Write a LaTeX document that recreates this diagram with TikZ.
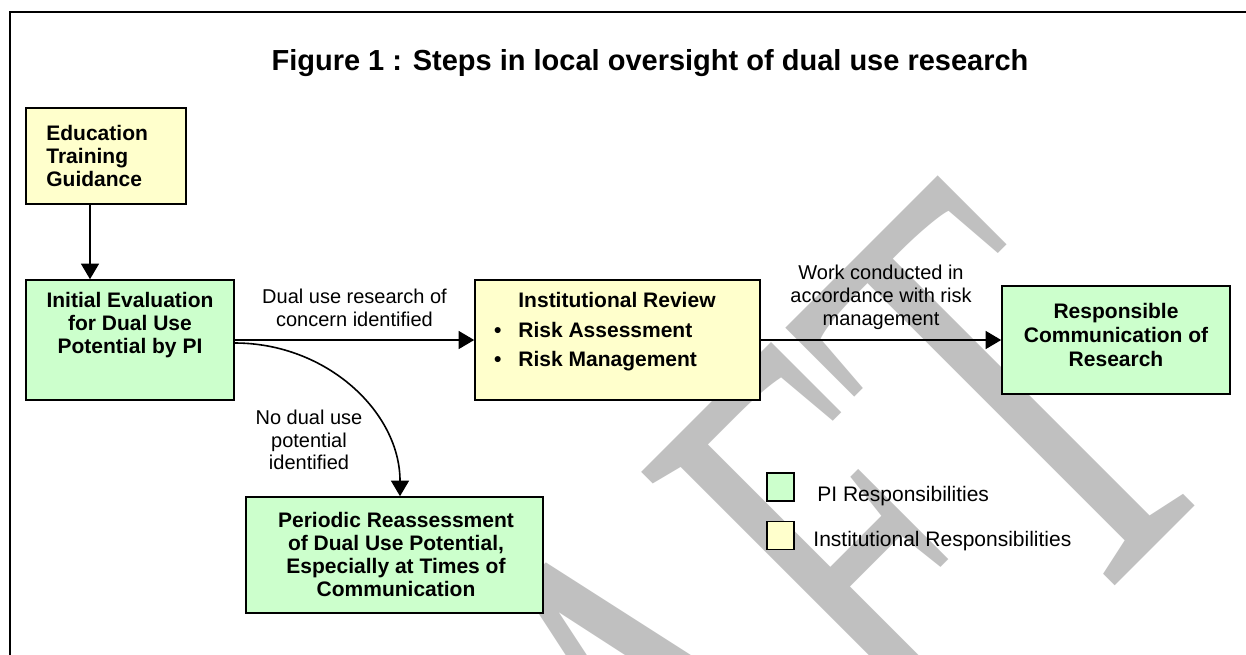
\documentclass[tikz,border=0pt]{standalone}
\usepackage{fontspec}
\setmainfont{Liberation Sans}
\newfontfamily\draftfont{Liberation Serif}
\usepackage{tikz}
\usetikzlibrary{positioning}
\usetikzlibrary{arrows.meta}
\definecolor{pigreen}{HTML}{CCFFCC}
\definecolor{instyellow}{HTML}{FFFFCC}
\definecolor{draftgray}{HTML}{C0C0C0}

\begin{document}
\begin{tikzpicture}[x=0.5pt, y=-0.5pt]
        \tikzstyle{box}=[draw=black, line width=0.8pt, inner sep=0pt]
        \tikzstyle{pibox}=[box, fill=pigreen]
        \tikzstyle{instbox}=[box, fill=instyellow]
        \tikzstyle{boxtext}=[inner sep=0pt, align=center,
            font=\bfseries\fontsize{10.5}{11.5}\selectfont]
        \tikzstyle{note}=[inner sep=0pt, align=center,
            font=\fontsize{10}{11.25}\selectfont]
        \tikzstyle{legendtext}=[inner sep=0pt, anchor=base west,
            font=\fontsize{10.5}{12}\selectfont]
        \tikzstyle{flow}=[-{Triangle[length=7.8pt, width=9pt]}, line width=0.8pt]

        \useasboundingbox (0,0) rectangle (1246,654);
        \fill[white] (0,0) rectangle (1246,654);
        \clip (0,0) rectangle (1246,654);

        % watermark
        \node[rotate=45, yscale=1.695, anchor=base west, inner sep=0pt, text=draftgray,
            font=\draftfont\fontsize{187}{187}\selectfont] (draft) at (369,1332) {DRAFT};

        % frame
        \draw[line width=1pt] (10,700) -- (10,12) -- (1260,12);

        \node[inner sep=0pt, font=\bfseries\fontsize{14.5}{16}\selectfont] (title) at (650,63)
            {Figure 1 : Steps in local oversight of dual use research};

        % boxes
        \node[instbox, minimum width=80pt, minimum height=48pt] (edu) at (106,156) {};
        \node[boxtext, align=left, anchor=west] (edutext) at (46,156)
            {Education\\Training\\Guidance};

        \node[pibox, minimum width=104pt, minimum height=60pt] (eval) at (130,340) {};
        \node[boxtext] (evaltext) at (130,325)
            {Initial Evaluation\\for Dual Use\\Potential by PI};

        \node[instbox, minimum width=142.5pt, minimum height=60pt] (review) at (617.5,340) {};
        \node[boxtext, align=left, anchor=west,
            font=\bfseries\fontsize{10.5}{14.75}\selectfont] (reviewtext) at (518,332)
            {Institutional Review\\
             \llap{\textbullet\hspace{8.5pt}}Risk Assessment\\
             \llap{\textbullet\hspace{8.5pt}}Risk Management};

        \node[pibox, minimum width=114pt, minimum height=54pt] (comm) at (1116,340) {};
        \node[boxtext, font=\bfseries\fontsize{10.5}{12}\selectfont] (commtext) at (1116,335)
            {Responsible\\Communication of\\Research};

        \node[pibox, minimum width=148.5pt, minimum height=58pt] (reassess) at (394.5,555) {};
        \node[boxtext] (reassesstext) at (396,554)
            {Periodic Reassessment\\of Dual Use Potential,\\Especially at Times of\\Communication};

        % connectors
        \draw[flow] ([xshift=-8pt]edu.south) -- ([xshift=-20pt]eval.north);

        \draw[flow] (eval) -- (review)
            node[note, midway, yshift=16pt] (concern) {Dual use research of\\concern identified};

        \draw[flow] (review) -- (comm)
            node[note, midway, yshift=21.5pt, font=\fontsize{10}{11.5}\selectfont] (managed)
            {Work conducted in\\accordance with risk\\management};

        \draw[flow] ([yshift=-1.5pt]eval.east) .. controls +(92,0) and +(0,-84) ..
            ([xshift=2.75pt]reassess.north);
        \node[note] (nodual) at (309,440) {No dual use\\potential\\identified};

        % legend
        \node[pibox, minimum width=13.5pt, minimum height=14pt] (legpi) at (780.5,487) {};
        \node[legendtext] (legpitext) at (817,501) {PI Responsibilities};
        \node[instbox, minimum width=13.5pt, minimum height=14pt] (leginst) at (780.5,535.5) {};
        \node[legendtext] (leginsttext) at (813,546) {Institutional Responsibilities};
\end{tikzpicture}
\end{document}
